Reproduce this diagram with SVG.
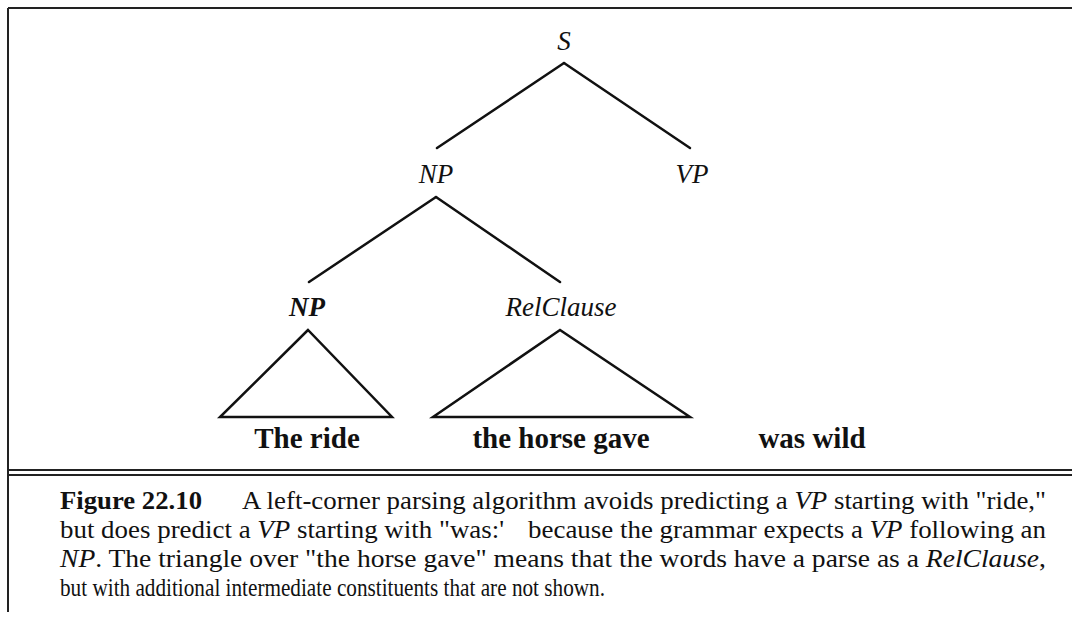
<svg xmlns="http://www.w3.org/2000/svg" width="1072" height="617" viewBox="0 0 1072 617">
<style>
.lbl{font-family:"Liberation Serif","Times New Roman",serif;font-style:italic;font-size:27px;fill:#111;text-anchor:middle}
.word{font-family:"Liberation Serif","Times New Roman",serif;font-weight:bold;font-size:29px;fill:#111;text-anchor:middle}
.cap{font-family:"Liberation Serif","Times New Roman",serif;font-size:25px;fill:#111}
.it{font-style:italic}
.edge{stroke:#111;stroke-width:2.5;fill:none;stroke-linecap:round}
.tri{stroke:#111;stroke-width:2.5;fill:none;stroke-linejoin:miter}
.frame{stroke:#222;stroke-width:2;fill:none}
</style>
<rect width="1072" height="617" fill="#fff"/>
<g id="frame">
<line class="frame" x1="8" y1="8" x2="1072" y2="8"/>
<line class="frame" x1="8" y1="8" x2="8" y2="612" stroke="#444"/>
<line class="frame" x1="8" y1="470" x2="1072" y2="470"/>
<line class="frame" x1="8" y1="475" x2="1072" y2="475"/>
</g>
<g id="connectors">
<line class="edge" x1="564" y1="63" x2="437" y2="148"/>
<line class="edge" x1="564" y1="63" x2="690" y2="148"/>
<line class="edge" x1="436" y1="197" x2="309" y2="282"/>
<line class="edge" x1="436" y1="197" x2="560" y2="282"/>
</g>
<g id="node-S"><text class="lbl" x="564" y="50">S</text></g>
<g id="node-NP"><text class="lbl" x="436" y="183">NP</text></g>
<g id="node-VP"><text class="lbl" x="692" y="183">VP</text></g>
<g id="node-NP2"><text class="lbl" x="307" y="316" font-weight="bold">NP</text></g>
<g id="node-RelClause"><text class="lbl" x="561" y="316">RelClause</text></g>
<g id="tri-NP"><polygon class="tri" points="308,330 220,417 392,417"/><text class="word" x="307" y="448">The ride</text></g>
<g id="tri-RelClause"><polygon class="tri" points="560,330 433,417 690,417"/><text class="word" x="561" y="448">the horse gave</text></g>
<g id="words-VP"><text class="word" x="812" y="448">was wild</text></g>
<g id="caption">
<text class="cap" x="60" y="509" font-weight="bold" textLength="142" lengthAdjust="spacingAndGlyphs">Figure 22.10</text>
<text class="cap" x="242" y="509" textLength="804" lengthAdjust="spacingAndGlyphs">A left-corner parsing algorithm avoids predicting a <tspan class="it">VP</tspan> starting with "ride,"</text>
<text class="cap" x="60" y="538" textLength="986" lengthAdjust="spacingAndGlyphs">but does predict a <tspan class="it">VP</tspan> starting with "was:' <tspan dx="16">because the grammar expects a </tspan><tspan class="it">VP</tspan> following an</text>
<text class="cap" x="60" y="567" textLength="986" lengthAdjust="spacingAndGlyphs"><tspan class="it">NP</tspan>. The triangle over "the horse gave" means that the words have a parse as a <tspan class="it">RelClause</tspan>,</text>
<text class="cap" x="60" y="596" textLength="545" lengthAdjust="spacingAndGlyphs">but with additional intermediate constituents that are not shown.</text>
</g>
</svg>
